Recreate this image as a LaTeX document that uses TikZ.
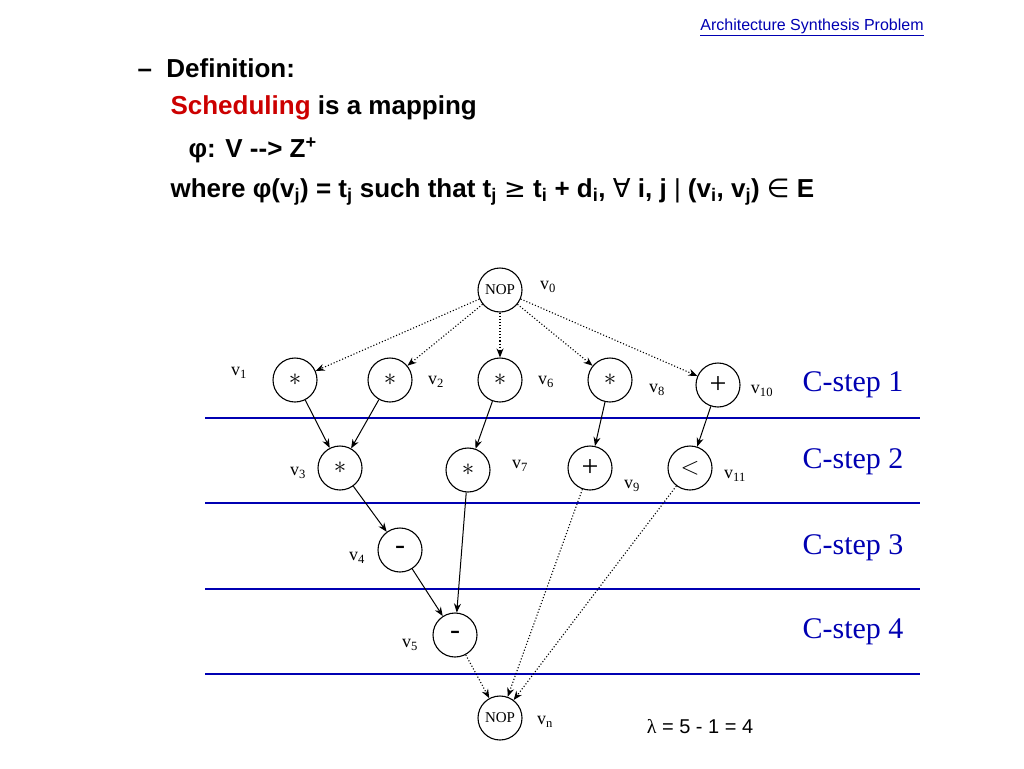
\documentclass[tikz,border=0pt]{standalone}
\usetikzlibrary{arrows.meta}
\usepackage{fontspec}
\setmainfont{Liberation Serif}
\newfontfamily\hv{Liberation Sans}
\newfontfamily\djvs{DejaVu Sans}
\begin{document}
\begin{tikzpicture}[x=1pt,y=-1pt,
  op/.style={circle,draw,line width=1.1pt,minimum size=44pt,inner sep=0pt,font=\fontsize{30}{30}\selectfont},
  nop/.style={op,font=\fontsize{15}{15}\selectfont},
  lab/.style={font=\fontsize{18}{18}\selectfont},
  cs/.style={font=\fontsize{30}{30}\selectfont,text=blue!70!black},
  sol/.style={-{Stealth[length=9pt,width=7pt]},line width=1pt},
  dot/.style={-{Stealth[length=9pt,width=7pt]},dotted,line width=1.1pt},
  bl/.style={draw=blue!70!black,line width=1.2pt},
  tx/.style={anchor=west,font=\hv\bfseries\fontsize{26}{26}\selectfont}]
\useasboundingbox (0,0) rectangle (1024,768);
\node[font=\hv\fontsize{16}{16}\selectfont,text=blue!70!black] (hd) at (812,27) {\underline{Architecture Synthesis Problem}};
\node[tx] (t1) at (134,68) {\textendash\ \ Definition:};
\node[tx] (t2) at (167,108) {\textcolor{red!80!black}{Scheduling} is a mapping};
\node[tx] (t3) at (185,150) {φ: V --> Z\textsuperscript{+}};
\node[tx] (t4) at (167,192) {where φ(v\textsubscript{j}) = t\textsubscript{j} such that t\textsubscript{j} {\djvs\mdseries ≥} t\textsubscript{i} + d\textsubscript{i}, {\djvs\mdseries ∀} i, j {\mdseries |} (v\textsubscript{i}, v\textsubscript{j}) {\djvs\mdseries ∈} E};
\foreach \y in {418,503,589,674} \draw[bl] (205,\y) -- (920,\y);
\node[cs] (c1) at (853,385) {C-step 1};
\node[cs] (c2) at (853,462) {C-step 2};
\node[cs] (c3) at (853,548) {C-step 3};
\node[cs] (c4) at (853,632) {C-step 4};
\node[nop] (n0) at (500,290) {NOP};
\node[op] (v1) at (295,380) {$*$};
\node[op] (v2) at (390,380) {$*$};
\node[op] (v6) at (500,380) {$*$};
\node[op] (v8) at (610,380) {$*$};
\node[op] (v10) at (718,385) {+};
\node[op] (v3) at (340,468) {$*$};
\node[op] (v7) at (468,470) {$*$};
\node[op] (v9) at (590,468) {+};
\node[op] (v11) at (690,468) {$<$};
\node[op] (v4) at (400,550) {-};
\node[op] (v5) at (455,635) {-};
\node[nop] (vn) at (500,718) {NOP};
\node[lab] (l0) at (548,287) {v\textsubscript{0}};
\node[lab] (l1) at (239,373) {v\textsubscript{1}};
\node[lab] (l2) at (436,382) {v\textsubscript{2}};
\node[lab] (l6) at (546,382) {v\textsubscript{6}};
\node[lab] (l8) at (657,390) {v\textsubscript{8}};
\node[lab] (l10) at (762,391) {v\textsubscript{10}};
\node[lab] (l3) at (298,473) {v\textsubscript{3}};
\node[lab] (l7) at (520,466) {v\textsubscript{7}};
\node[lab] (l9) at (632,486) {v\textsubscript{9}};
\node[lab] (l11) at (735,476) {v\textsubscript{11}};
\node[lab] (l4) at (357,558) {v\textsubscript{4}};
\node[lab] (l5) at (410,645) {v\textsubscript{5}};
\node[lab] (ln) at (545,722) {v\textsubscript{n}};
\node[font=\hv\fontsize{20}{20}\selectfont] (lam) at (700,727) {{\rmfamily λ} = 5 - 1 = 4};
\foreach \t in {v1,v2,v6,v8,v10} \draw[dot] (n0) -- (\t);
\draw[sol] (v1) -- (v3); \draw[sol] (v2) -- (v3);
\draw[sol] (v6) -- (v7); \draw[sol] (v8) -- (v9);
\draw[sol] (v10) -- (v11); \draw[sol] (v3) -- (v4);
\draw[sol] (v4) -- (v5); \draw[sol] (v7) -- (v5);
\draw[dot] (v5) -- (vn); \draw[dot] (v9) -- (vn); \draw[dot] (v11) -- (vn);
\end{tikzpicture}
\end{document}
